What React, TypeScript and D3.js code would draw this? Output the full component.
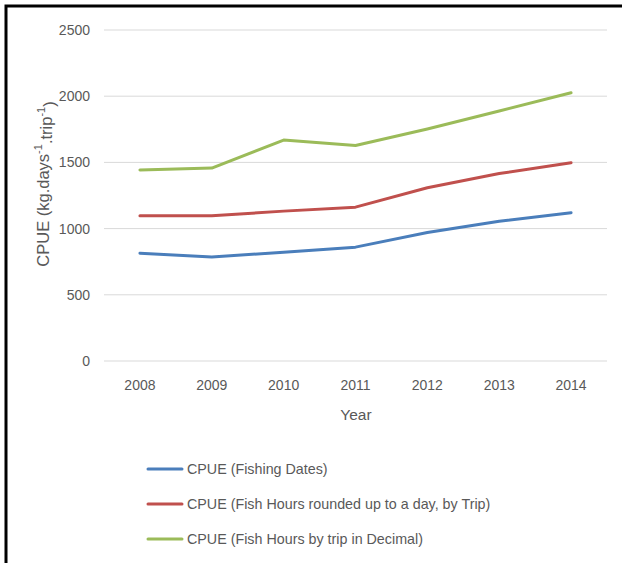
import React from "react";
import * as d3 from "d3";

const years = ["2008", "2009", "2010", "2011", "2012", "2013", "2014"];
const fishingDates = [814, 786, 822, 860, 970, 1055, 1120];
const hoursRounded = [1097, 1097, 1132, 1162, 1308, 1416, 1498];
const hoursDecimal = [1443, 1457, 1669, 1628, 1752, 1888, 2026];
const yTicks = [0, 500, 1000, 1500, 2000, 2500];

const seriesNames = [
  "CPUE (Fishing Dates)",
  "CPUE (Fish Hours rounded up to a day, by Trip)",
  "CPUE (Fish Hours by trip in Decimal)",
];
const seriesColors = ["#4a7ebb", "#c0504d", "#9bbb59"];

const W = 622;
const H = 563;
const FONT = "'Liberation Sans', Arial, sans-serif";
const TEXT = "#595959";

export default function App() {
  const x = d3.scaleBand<string>().domain(years).range([104, 607]);
  const y = d3.scaleLinear().domain([0, 2500]).range([361, 30]);
  const series = [fishingDates, hoursRounded, hoursDecimal];
  const line = d3
    .line<number>()
    .x((_, i) => (x(years[i]) as number) + x.bandwidth() / 2)
    .y((d) => y(d));

  return (
    <svg
      width={W}
      height={H}
      style={{ position: "absolute", left: 0, top: 0, background: "#fff" }}
      fontFamily={FONT}
    >
      <rect x={0} y={0} width={W} height={H} fill="#fff" />
      <rect x={6} y={6} width={W + 20} height={H + 20} fill="none" stroke="#000" strokeWidth={3} />

      {yTicks.map((t) => (
        <g key={t}>
          <line x1={104} x2={607} y1={y(t)} y2={y(t)} stroke="#d9d9d9" strokeWidth={1} />
          <text x={90} y={y(t)} dy="0.35em" textAnchor="end" fontSize={14} fill={TEXT}>
            {t}
          </text>
        </g>
      ))}

      {years.map((yr) => (
        <text
          key={yr}
          x={(x(yr) as number) + x.bandwidth() / 2}
          y={385}
          dy="0.35em"
          textAnchor="middle"
          fontSize={14}
          fill={TEXT}
        >
          {yr}
        </text>
      ))}

      <text x={356} y={415} dy="0.35em" textAnchor="middle" fontSize={15.5} fill={TEXT}>
        Year
      </text>

      <text
        transform="translate(43,184) rotate(-90)"
        textAnchor="middle"
        dy="0.35em"
        fontSize={16.5}
        fill={TEXT}
      >
        CPUE (kg.days
        <tspan fontSize={11} dy="-0.6em">-1</tspan>
        <tspan dy="0.6em">.trip</tspan>
        <tspan fontSize={11} dy="-0.6em">-1</tspan>
        <tspan dy="0.6em">)</tspan>
      </text>

      {series.map((s, i) => (
        <path
          key={i}
          d={line(s) ?? ""}
          fill="none"
          stroke={seriesColors[i]}
          strokeWidth={3}
          strokeLinejoin="round"
          strokeLinecap="round"
        />
      ))}

      {seriesNames.map((name, i) => {
        const ly = 469 + i * 35;
        return (
          <g key={name}>
            <line x1={148} x2={182} y1={ly} y2={ly} stroke={seriesColors[i]} strokeWidth={3} strokeLinecap="round" />
            <text x={187} y={ly} dy="0.35em" fontSize={14.3} fill={TEXT}>
              {name}
            </text>
          </g>
        );
      })}
    </svg>
  );
}
